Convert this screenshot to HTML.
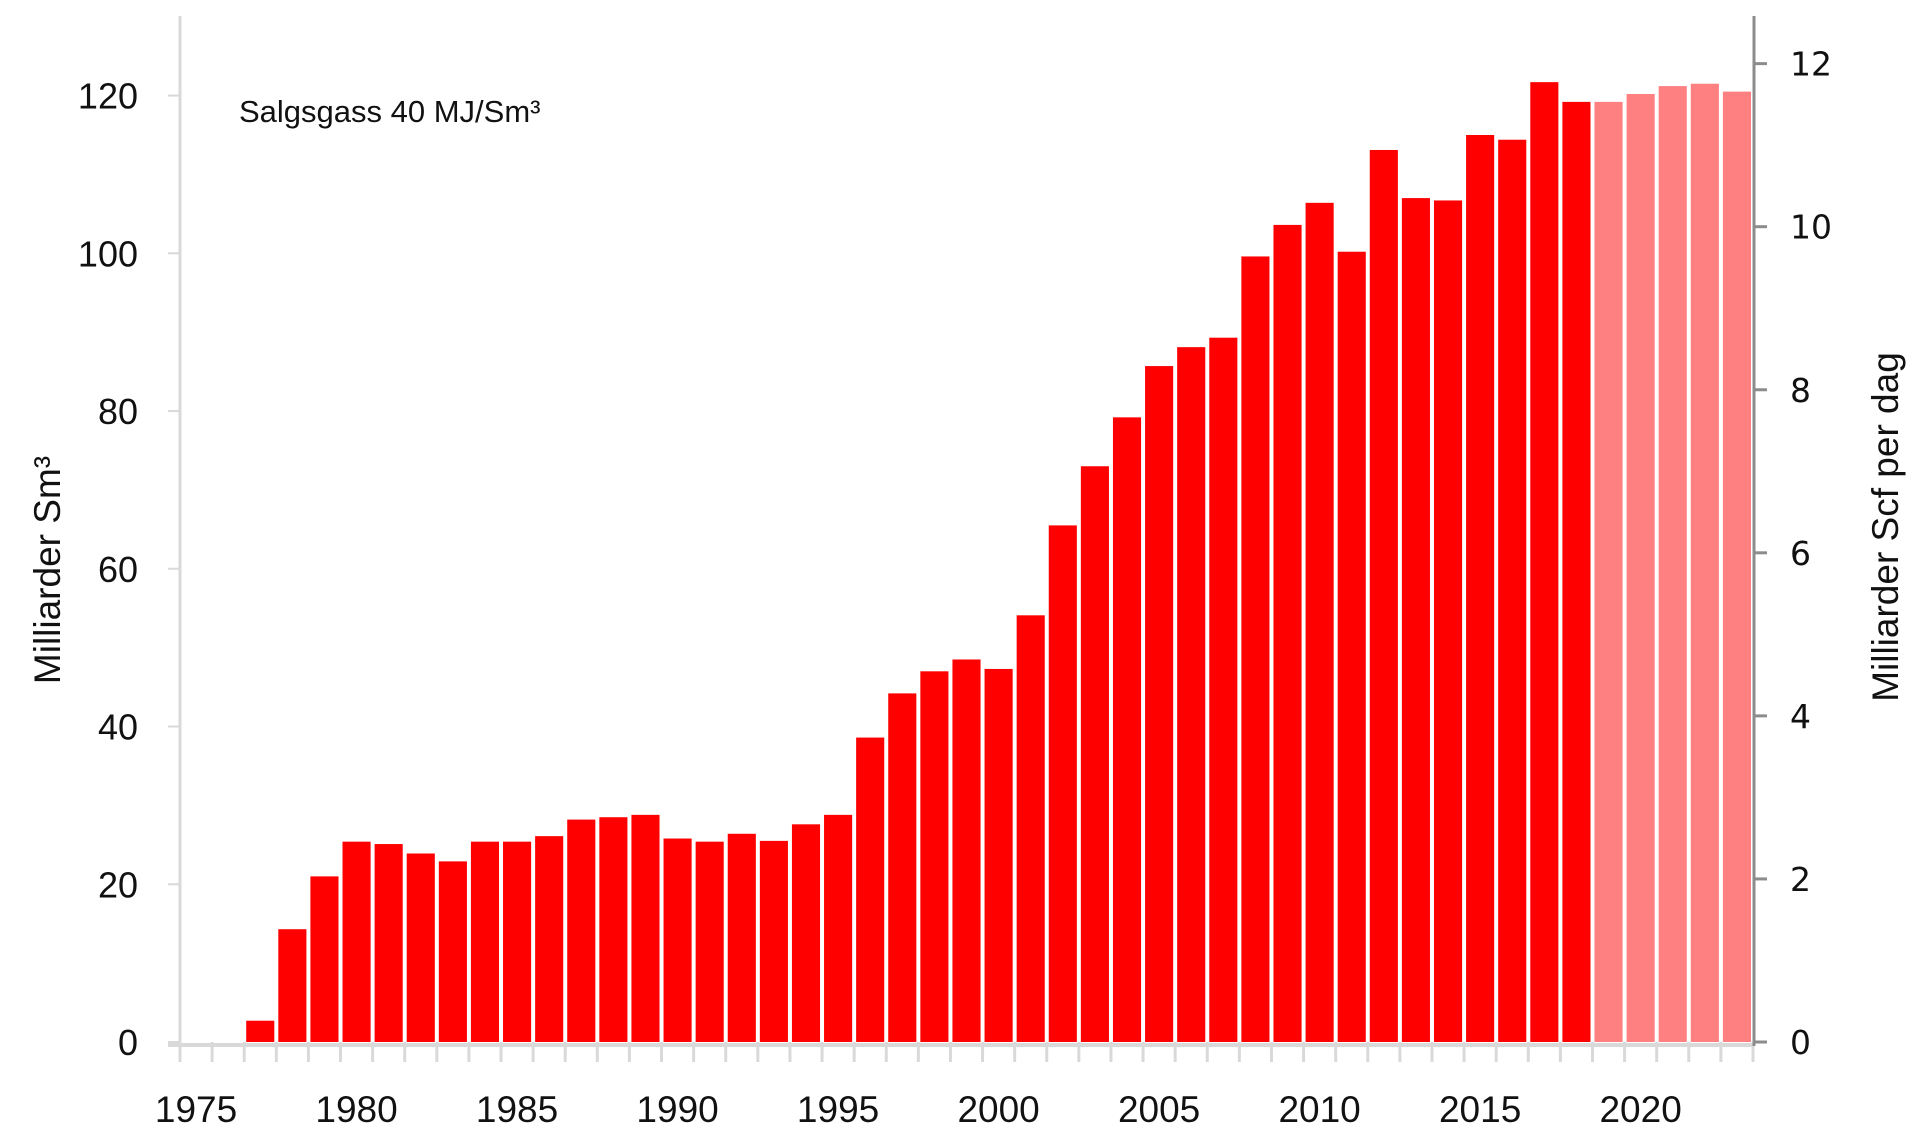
<!DOCTYPE html>
<html><head><meta charset="utf-8"><style>
html,body{margin:0;padding:0;background:#fff;}
svg{display:block;font-family:"Liberation Sans",sans-serif;}
</style></head><body>
<svg id="chart" width="1920" height="1134" viewBox="0 0 1920 1134" xmlns="http://www.w3.org/2000/svg">
<g id="grid"></g>
<g id="bars"></g>
<g id="labels"></g>
<text x="239" y="122" font-size="31" fill="#111">Salgsgass 40 MJ/Sm³</text>
<text transform="translate(60,570) rotate(-90)" text-anchor="middle" font-size="37" fill="#111">Milliarder  Sm³</text>
<text transform="translate(1898,527) rotate(-90)" text-anchor="middle" font-size="37" fill="#111">Milliarder Scf per dag</text>
</svg>
<script>
const years = [];
for (let y = 1975; y <= 2023; y++) years.push(y);
const values = [0,0,2.7,14.3,21,25.4,25.1,23.9,22.9,25.4,25.4,26.1,28.2,28.5,28.8,25.8,25.4,26.4,25.5,27.6,28.8,38.6,44.2,47,48.5,47.3,54.1,65.5,73,79.2,85.7,88.1,89.3,99.6,103.6,106.4,100.2,113.1,107,106.7,115,114.4,121.7,119.2,119.2,120.2,121.2,121.5,120.5];
const forecastFrom = 2019;
const leftTicks = [0,20,40,60,80,100,120];
const rightTicks = [0,2,4,6,8,10,12];
const xLabels = [1975,1980,1985,1990,1995,2000,2005,2010,2015,2020];

const NS = "http://www.w3.org/2000/svg";
const X0 = 180, X1 = 1753, Y0 = 1042;
const yScale = v => Y0 - v * 7.887;
const yRight = v => Y0 - v * 81.53;
const bw = (X1 - X0) / years.length;
const xScale = i => X0 + i * bw;
function mk(tag, parent) { const e = document.createElementNS(NS, tag); parent.appendChild(e); return e; }
const grid = document.getElementById('grid'), bars = document.getElementById('bars'), labels = document.getElementById('labels');

values.forEach((v, i) => {
  if (v <= 0) return;
  const r = mk('rect', bars);
  
  
  r.setAttribute('x', xScale(i) + 2);
  r.setAttribute('width', bw - 4);
  r.setAttribute('y', yScale(v));
  r.setAttribute('height', Y0 - yScale(v));
  r.setAttribute('fill', years[i] >= forecastFrom ? '#ff8080' : '#ff0000');
});

// left axis
let l = mk('line', grid);


l.setAttribute('x1', X0); l.setAttribute('x2', X0); l.setAttribute('y1', 16); l.setAttribute('y2', Y0 + 4);
l.setAttribute('stroke', '#d9d9d9'); l.setAttribute('stroke-width', 3);
// x axis
l = mk('line', grid);


l.setAttribute('x1', X0 - 12); l.setAttribute('x2', X1); l.setAttribute('y1', Y0 + 3); l.setAttribute('y2', Y0 + 3);
l.setAttribute('stroke', '#d9d9d9'); l.setAttribute('stroke-width', 4);
for (let i = 0; i <= years.length; i++) {
  const t = mk('line', grid);
  
  
  t.setAttribute('x1', xScale(i)); t.setAttribute('x2', xScale(i)); t.setAttribute('y1', Y0); t.setAttribute('y2', Y0 + 20);
  t.setAttribute('stroke', '#d9d9d9'); t.setAttribute('stroke-width', 3);
}
// right axis
l = mk('line', grid);


l.setAttribute('x1', X1 + 1); l.setAttribute('x2', X1 + 1); l.setAttribute('y1', 16); l.setAttribute('y2', Y0 + 4);
l.setAttribute('stroke', '#8c8c8c'); l.setAttribute('stroke-width', 3);

leftTicks.forEach(v => {
  const t = mk('line', grid);
  
  
  t.setAttribute('x1', X0 - 12); t.setAttribute('x2', X0); t.setAttribute('y1', yScale(v)); t.setAttribute('y2', yScale(v));
  t.setAttribute('stroke', '#d9d9d9'); t.setAttribute('stroke-width', 2);
  const tx = mk('text', labels);
  
  
  tx.setAttribute('x', 138); tx.setAttribute('y', yScale(v) + 13);
  tx.setAttribute('text-anchor', 'end'); tx.setAttribute('font-size', '36'); tx.setAttribute('fill', '#111');
  tx.textContent = v;
});
rightTicks.forEach(v => {
  const t = mk('line', grid);
  
  
  t.setAttribute('x1', X1); t.setAttribute('x2', X1 + 14); t.setAttribute('y1', yRight(v)); t.setAttribute('y2', yRight(v));
  t.setAttribute('stroke', '#8c8c8c'); t.setAttribute('stroke-width', 3);
  const tx = mk('text', labels);
  
  
  tx.setAttribute('x', 1790); tx.setAttribute('y', yRight(v) + 12);
  tx.setAttribute('font-size', '33'); tx.setAttribute('fill', '#111');
  tx.setAttribute('font-family', '"DejaVu Sans", sans-serif');
  tx.textContent = v;
});
xLabels.forEach(y => {
  const i = years.indexOf(y);
  const tx = mk('text', labels);
  
  
  tx.setAttribute('x', xScale(i) + bw / 2); tx.setAttribute('y', 1122);
  tx.setAttribute('text-anchor', 'middle'); tx.setAttribute('font-size', '37'); tx.setAttribute('fill', '#111');
  tx.textContent = y;
});
</script>
</body></html>
